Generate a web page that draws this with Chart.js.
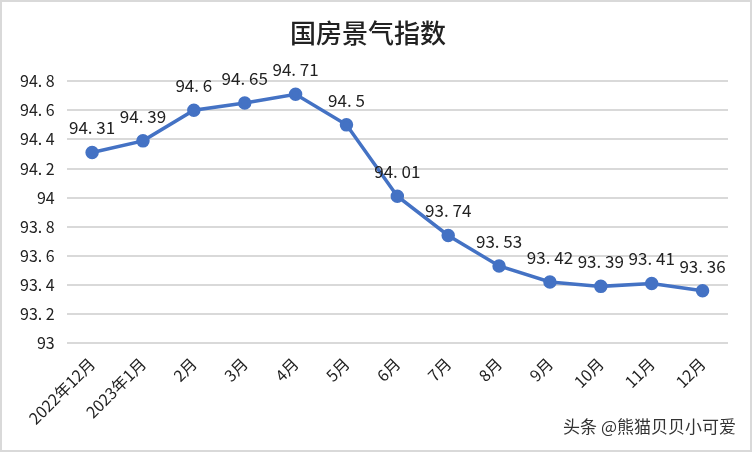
<!DOCTYPE html>
<html>
<head>
<meta charset="utf-8">
<script src="https://cdn.jsdelivr.net/npm/chart.js@4"></script>
<style>
  html, body { margin: 0; padding: 0; background: #fff; }
  #wrap { position: relative; width: 752px; height: 452px; box-sizing: border-box; border: 2px solid #d9d9d9; }
  #mark { position: absolute; right: 14px; bottom: 12px; font-family: "Noto Sans CJK SC", sans-serif; font-size: 17px; color: #333; text-shadow: 1px 1px 0 #fff, -1px -1px 0 #fff; }
</style>
</head>
<body>
<div id="wrap">
  <canvas id="index-chart" width="748" height="448"></canvas>
  <div id="mark">头条 @熊猫贝贝小可爱</div>
</div>
<script>
var months = ["2022年12月", "2023年1月", "2月", "3月", "4月", "5月", "6月", "7月", "8月", "9月", "10月", "11月", "12月"];
var indexValues = [94.31, 94.39, 94.6, 94.65, 94.71, 94.5, 94.01, 93.74, 93.53, 93.42, 93.39, 93.41, 93.36];
var yTicks = [93, 93.2, 93.4, 93.6, 93.8, 94, 94.2, 94.4, 94.6, 94.8];

// draws the value over each point
var valueLabels = {
  id: 'valueLabels',
  afterDatasetsDraw: function(chart) {
    var ctx = chart.ctx;
    var meta = chart.getDatasetMeta(0);
    ctx.save();
    ctx.font = '17px "Noto Sans CJK SC", sans-serif';
    ctx.fillStyle = '#222';
    ctx.textAlign = 'center';
    ctx.textBaseline = 'bottom';
    meta.data.forEach(function(pt, i) {
      ctx.fillText(String(indexValues[i]).replace('.', '. '), pt.x, pt.y - 16);
    });
    ctx.restore();
  }
};

var ctx = document.getElementById('index-chart').getContext('2d');
new Chart(ctx, {
  type: 'line',
  data: {
    labels: months,
    datasets: [{
      label: '国房景气指数',
      data: indexValues,
      borderColor: '#4472C4',
      backgroundColor: '#4472C4',
      borderWidth: 3.5,
      pointRadius: 5,
      pointHoverRadius: 5,
      tension: 0
    }]
  },
  options: {
    responsive: false,
    animation: false,
    layout: { padding: { left: 6, right: 22, top: 10, bottom: 19 } },
    plugins: {
      legend: { display: false },
      tooltip: { enabled: false },
      title: {
        display: true,
        text: '国房景气指数',
        color: '#222',
        font: { family: '"Noto Sans CJK SC", sans-serif', size: 26, weight: '500' },
        padding: { top: 6, bottom: 32 }
      }
    },
    scales: {
      x: {
        offset: true,
        grid: { display: false },
        border: { display: false },
        ticks: {
          minRotation: 45, maxRotation: 45,
          color: '#222',
          font: { family: '"Noto Sans CJK SC", sans-serif', size: 16 }
        }
      },
      y: {
        min: 93,
        max: 94.8,
        afterBuildTicks: function(axis) {
          axis.ticks = yTicks.map(function(v) { return { value: v }; });
        },
        grid: { color: '#d9d9d9', lineWidth: 2, drawTicks: false },
        border: { display: false },
        ticks: {
          padding: 12,
          color: '#222',
          font: { family: '"Noto Sans CJK SC", sans-serif', size: 16 },
          callback: function(v) { return String(Number(v.toFixed(1))).replace('.', '. '); }
        }
      }
    }
  },
  plugins: [valueLabels]
});
</script>
</body>
</html>
